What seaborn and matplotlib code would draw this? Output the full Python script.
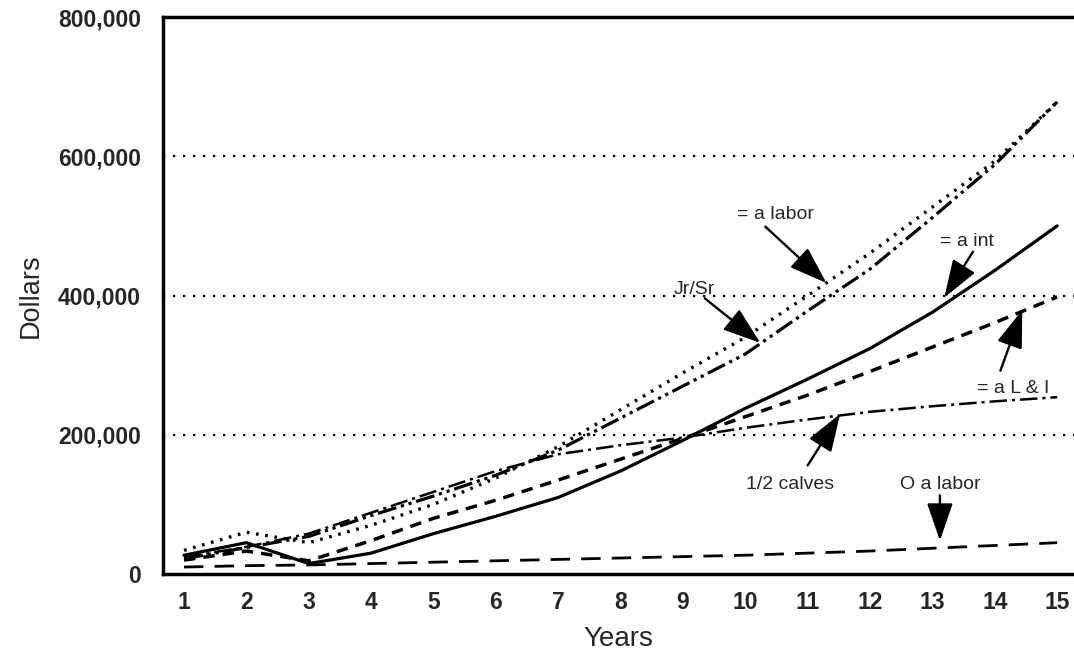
import matplotlib
matplotlib.use("Agg")
import matplotlib.pyplot as plt
import seaborn as sns
import pandas as pd
from matplotlib.ticker import MultipleLocator, FuncFormatter

# ---- data (dollars, thousands) ----
years = list(range(1, 16))
a_labor = [34, 60, 45, 70, 100, 138, 183, 236, 289, 340, 400, 461, 527, 593, 678]
jr_sr = [22, 38, 54, 84, 112, 142, 178, 224, 270, 316, 378, 438, 512, 588, 678]
a_int = [27, 45, 15, 30, 58, 83, 110, 148, 192, 238, 280, 324, 376, 436, 500]
a_li = [20, 33, 19, 48, 80, 106, 135, 165, 195, 226, 257, 291, 326, 361, 398]
half_calves = [24, 39, 58, 88, 118, 148, 172, 185, 196, 210, 222, 233, 241, 248, 254]
o_labor = [10, 12, 13, 15, 17, 19, 21, 23, 25, 27, 30, 33, 37, 41, 45]

x_tick_labels = [str(y) for y in years]

sns.set_style("white")
plt.rcParams["font.family"] = ["Liberation Sans", "DejaVu Sans"]

fig = plt.figure(figsize=(10.74, 6.52), dpi=100)
ax = fig.add_axes([0.1518, 0.1196, 0.8482, 0.8543])

series = [
    (a_labor, (0, (0.8, 2.0)), 2.4),
    (jr_sr, (0, (6, 1.5, 1, 1.5, 1, 1.5)), 2.3),
    (a_int, "-", 2.3),
    (a_li, (0, (3.3, 2.3)), 2.5),
    (half_calves, (0, (7, 2, 1.2, 2)), 1.8),
    (o_labor, (0, (7, 4)), 2.0),
]
for vals, ls, lw in series:
    df = pd.DataFrame({"Years": years, "Dollars": [v * 1000 for v in vals]})
    sns.lineplot(data=df, x="Years", y="Dollars", ax=ax, color="black",
                 linestyle=ls, linewidth=lw)

for g in [200000, 400000, 600000]:
    ax.axhline(g, color="black", linestyle=(0, (1, 3.5)), linewidth=1.6, zorder=0)

ax.set_xlim(0.663, 15.27)
ax.set_ylim(0, 800000)
ax.set_xticks(years)
ax.set_xticklabels(x_tick_labels)
ax.yaxis.set_major_locator(MultipleLocator(200000))
ax.yaxis.set_minor_locator(MultipleLocator(100000))
ax.yaxis.set_major_formatter(FuncFormatter(lambda v, p: f"{int(v):,}"))

ax.tick_params(axis="x", direction="in", length=12, width=1.5, pad=12,
               labelsize=16.5)
ax.tick_params(axis="y", which="both", direction="in", length=8, width=1.5,
               pad=16, labelsize=16.5)
for lab in ax.get_xticklabels() + ax.get_yticklabels():
    lab.set_fontweight("bold")

for s in ["left", "bottom", "top"]:
    ax.spines[s].set_visible(True)
    ax.spines[s].set_linewidth(2.5)
    ax.spines[s].set_color("black")
ax.spines["right"].set_visible(False)

ax.set_xlabel("Years", fontsize=20, labelpad=9)
ax.set_ylabel("Dollars", fontsize=19.5, labelpad=10)

# ---- annotations ----
arrow = dict(arrowstyle="-|>,head_length=1.3,head_width=0.45", color="black",
             lw=1.7, mutation_scale=18, shrinkA=0, shrinkB=0)
labels = [
    ("= a labor", (10.48, 516000), (10.32, 499000), (11.30, 418000)),
    ("Jr/Sr", (9.19, 408000), (9.35, 396000), (10.24, 332000)),
    ("= a int", (13.55, 477000), (13.65, 463000), (13.19, 397000)),
    ("= a L & I", (14.29, 267000), (14.09, 292000), (14.44, 379000)),
    ("1/2 calves", (10.72, 128000), (11.0, 156000), (11.52, 230000)),
    ("O a labor", (13.12, 128000), (13.12, 113000), (13.12, 48000)),
]
for text, tpos, tail, head in labels:
    ax.text(tpos[0], tpos[1], text, ha="center", va="center", fontsize=14)
    ax.annotate("", xy=head, xytext=tail, arrowprops=arrow)

fig.savefig("out.png", dpi=100)
